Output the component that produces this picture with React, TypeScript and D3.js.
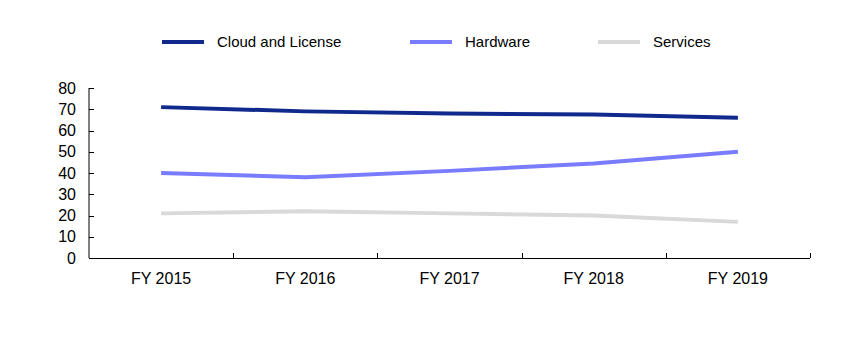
import { useEffect, useRef } from 'react';
import * as d3 from 'd3';

const years = ['FY 2015', 'FY 2016', 'FY 2017', 'FY 2018', 'FY 2019'];
const cloudAndLicense = [71, 69, 68, 67.5, 66];
const hardware = [40, 38, 41, 44.5, 50];
const services = [21, 22, 21, 20, 17];
const yTicks = [0, 10, 20, 30, 40, 50, 60, 70, 80];

const series = [
  { name: 'Cloud and License', values: cloudAndLicense, color: '#0f2a8c' },
  { name: 'Hardware', values: hardware, color: '#7a7cff' },
  { name: 'Services', values: services, color: '#d9d9d9' },
];

export default function App() {
  const svgRef = useRef<SVGSVGElement>(null);
  const width = 850;
  const height = 354;

  useEffect(() => {
    const svg = d3.select(svgRef.current);
    svg.selectAll('*').remove();

    const left = 89, right = 810, top = 88, bottom = 258;
    const font = 'Arial, "Liberation Sans", sans-serif';

    const x = d3.scaleBand().domain(years).range([left, right]);
    const y = d3.scaleLinear().domain([0, 80]).range([bottom, top]);

    // eixo y
    svg.append('line')
      .attr('x1', left).attr('x2', left).attr('y1', top).attr('y2', bottom)
      .attr('stroke', '#000').attr('stroke-width', 1);
    yTicks.forEach(t => {
      svg.append('line')
        .attr('x1', left).attr('x2', left + 5)
        .attr('y1', Math.round(y(t)) + 0.5).attr('y2', Math.round(y(t)) + 0.5)
        .attr('stroke', '#000');
      svg.append('text')
        .attr('x', left - 13).attr('y', y(t)).attr('dy', '0.35em')
        .attr('text-anchor', 'end')
        .attr('font-family', font).attr('font-size', 16)
        .text(t);
    });

    // eixo x
    svg.append('line')
      .attr('x1', left).attr('x2', right).attr('y1', bottom + 0.5).attr('y2', bottom + 0.5)
      .attr('stroke', '#000');
    years.forEach(yr => {
      const xe = Math.round(x(yr)! + x.bandwidth()) + 0.5;
      svg.append('line')
        .attr('x1', xe).attr('x2', xe).attr('y1', bottom).attr('y2', bottom - 5)
        .attr('stroke', '#000');
      svg.append('text')
        .attr('x', x(yr)! + x.bandwidth() / 2).attr('y', bottom + 26)
        .attr('text-anchor', 'middle')
        .attr('font-family', font).attr('font-size', 16)
        .text(yr);
    });

    // linhas
    const line = d3.line<number>()
      .x((d, i) => x(years[i])! + x.bandwidth() / 2)
      .y(d => y(d));

    series.forEach(s => {
      svg.append('path')
        .datum(s.values)
        .attr('d', line)
        .attr('fill', 'none')
        .attr('stroke', s.color)
        .attr('stroke-width', 4);
    });

    // legenda
    const legendX = [162, 410, 598];
    series.forEach((s, i) => {
      svg.append('line')
        .attr('x1', legendX[i]).attr('x2', legendX[i] + 42)
        .attr('y1', 42).attr('y2', 42)
        .attr('stroke', s.color).attr('stroke-width', 4);
      svg.append('text')
        .attr('x', legendX[i] + 55).attr('y', 42).attr('dy', '0.35em')
        .attr('font-family', font).attr('font-size', 15)
        .text(s.name);
    });
  }, []);

  return (
    <svg ref={svgRef} width={width} height={height}
      style={{ position: 'absolute', left: 0, top: 0, background: '#fff' }} />
  );
}
